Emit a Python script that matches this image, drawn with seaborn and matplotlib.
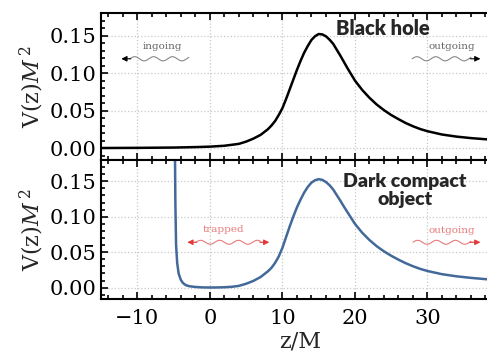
import numpy as np
import pandas as pd
import matplotlib
matplotlib.use("Agg")
import matplotlib.pyplot as plt
import seaborn as sns

# ---- data ----
bh_z = [-15, -10, -5, -2, 0, 2, 4, 5, 6, 7, 8, 8.5, 9, 9.5, 10, 10.5, 11, 11.5, 12, 12.5,
        13, 13.5, 14, 14.5, 15, 15.5, 16, 16.5, 17, 17.5, 18, 18.5, 19, 19.5, 20, 21, 22,
        23, 24, 25, 26, 27, 28, 29, 30, 32, 34, 36, 38, 40]
bh_v = [0.0000, 0.0002, 0.0006, 0.0012, 0.0018, 0.0030, 0.0055, 0.0085, 0.0125, 0.0175,
        0.0250, 0.0300, 0.0360, 0.0440, 0.0530, 0.0650, 0.0780, 0.0910, 0.1040, 0.1160,
        0.1270, 0.1360, 0.1440, 0.1490, 0.1520, 0.1515, 0.1490, 0.1445, 0.1390, 0.1310,
        0.1230, 0.1145, 0.1060, 0.0980, 0.0900, 0.0775, 0.0670, 0.0580, 0.0505, 0.0440,
        0.0385, 0.0333, 0.0290, 0.0253, 0.0224, 0.0180, 0.0152, 0.0132, 0.0117, 0.0105]

dco_z = [-4.95, -4.85, -4.75, -4.65, -4.5, -4.3, -4.0, -3.7, -3.3, -2.8, -2.0, -1.0, 0, 1,
         2, 3, 4, 5, 6, 7, 8, 8.5, 9, 9.5, 10, 10.5, 11, 11.5, 12, 12.5, 13, 13.5, 14,
         14.5, 15, 15.5, 16, 16.5, 17, 17.5, 18, 18.5, 19, 19.5, 20, 21, 22, 23, 24, 25,
         26, 27, 28, 29, 30, 32, 34, 36, 38, 40]
dco_v = [0.5000, 0.2500, 0.1200, 0.0600, 0.0350, 0.0200, 0.0110, 0.0065, 0.0035, 0.0020,
         0.0010, 0.0004, 0.0002, 0.0003, 0.0006, 0.0012, 0.0025, 0.0055, 0.0095, 0.0150,
         0.0230, 0.0280, 0.0350, 0.0440, 0.0560, 0.0710, 0.0860, 0.1000, 0.1130, 0.1240,
         0.1340, 0.1420, 0.1480, 0.1515, 0.1530, 0.1520, 0.1490, 0.1445, 0.1385, 0.1305,
         0.1225, 0.1140, 0.1060, 0.0980, 0.0900, 0.0775, 0.0672, 0.0585, 0.0512, 0.0450,
         0.0395, 0.0345, 0.0302, 0.0265, 0.0235, 0.0190, 0.0160, 0.0138, 0.0120, 0.0108]

xticks = [-10, 0, 10, 20, 30]
yticks = [0.00, 0.05, 0.10, 0.15]
ytick_labels = ["0.00", "0.05", "0.10", "0.15"]

bh_df = pd.DataFrame({"z": bh_z, "V": bh_v})
dco_df = pd.DataFrame({"z": dco_z, "V": dco_v})

sns.set_style("ticks")
plt.rcParams["font.family"] = ["DejaVu Serif", "DejaVu Sans"]
plt.rcParams["mathtext.fontset"] = "dejavuserif"

fig = plt.figure(figsize=(4.87, 3.62), dpi=100)
ax1 = fig.add_axes([0.2074, 0.558, 0.8193, 0.406])
ax2 = fig.add_axes([0.2074, 0.174, 0.8193, 0.384])

sns.lineplot(data=bh_df, x="z", y="V", ax=ax1, color="black", lw=1.8, sort=False)
sns.lineplot(data=dco_df, x="z", y="V", ax=ax2, color="#42699a", lw=1.8, sort=False)

for ax in (ax1, ax2):
    ax.set_xlim(-15, 40)
    ax.set_ylim(-0.016, 0.18)
    ax.set_xticks(xticks)
    ax.set_yticks(yticks)
    ax.set_xticks(np.arange(-14, 40, 2), minor=True)
    ax.set_yticks(np.arange(-0.01, 0.18, 0.01), minor=True)
    ax.grid(True, which="major", color="#c8c8c8", linestyle=":", linewidth=0.9)
    ax.tick_params(which="both", direction="in", top=True, right=True,
                   colors="black", width=1.2)
    ax.tick_params(which="major", length=5)
    ax.tick_params(which="minor", length=3)
    ax.tick_params(axis="y", labelsize=15, pad=3)
    ax.tick_params(axis="x", labelsize=15, pad=7)
    for s in ax.spines.values():
        s.set_linewidth(1.5)
        s.set_color("black")
    ax.set_yticklabels(ytick_labels)
    ax.set_ylabel(r"V(z)$M^{\,2}$", fontsize=16, labelpad=3)

ax1.tick_params(axis="x", labelbottom=False)
ax1.set_xlabel("")
ax2.set_xlabel("z/M", fontsize=16, labelpad=2)


def wavy(ax, x0, x1, y0, color, lw=0.8, amp=0.0028, wl=2.6):
    xs = np.linspace(x0, x1, 200)
    ys = y0 + amp * np.sin(2 * np.pi * (xs - x0) / wl)
    ax.plot(xs, ys, color=color, lw=lw, solid_capstyle="round")


def head(ax, xfrom, xto, y, color, size=8):
    ax.annotate("", xy=(xto, y), xytext=(xfrom, y),
                arrowprops=dict(arrowstyle="-|>", color=color, lw=0.8,
                                mutation_scale=size, shrinkA=0, shrinkB=0))


gray = "#666666"
# top panel annotations
ax1.text(-6.5, 0.136, "ingoing", fontsize=7.5, color=gray, ha="center", va="center")
wavy(ax1, -11.0, -2.9, 0.119, "#888888")
head(ax1, -10.9, -12.2, 0.119, "black")
ax1.text(33.4, 0.136, "outgoing", fontsize=7.5, color=gray, ha="center", va="center")
wavy(ax1, 27.9, 36.0, 0.119, "#888888")
head(ax1, 35.9, 37.3, 0.119, "black")
ax1.text(23.9, 0.160, "Black hole", fontsize=14.5, fontweight="heavy",
         family=["Lato", "DejaVu Sans"], ha="center", va="center")

# bottom panel annotations
red = "#e23a3a"
pink = "#e87a7a"
ax2.text(1.9, 0.082, "trapped", fontsize=7.5, color=pink, ha="center", va="center")
wavy(ax2, -1.9, 7.0, 0.064, pink)
head(ax2, -1.8, -3.1, 0.064, red)
head(ax2, 6.9, 8.2, 0.064, red)
ax2.text(33.4, 0.081, "outgoing", fontsize=7.5, color=pink, ha="center", va="center")
wavy(ax2, 28.0, 36.0, 0.064, pink)
head(ax2, 35.9, 37.3, 0.064, red)
ax2.text(26.9, 0.137, "Dark compact\nobject", fontsize=14, fontweight="heavy",
         family=["Lato", "DejaVu Sans"], ha="center", va="center", linespacing=1.1)

fig.savefig("out.png", dpi=100)
